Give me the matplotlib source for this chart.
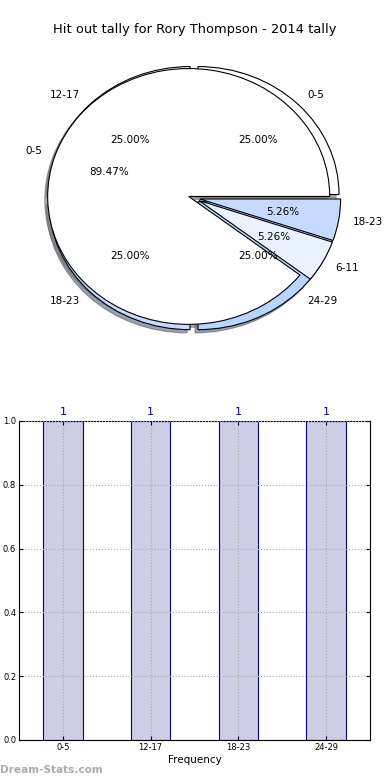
import matplotlib
matplotlib.use("Agg")
import matplotlib.pyplot as plt
import numpy as np

# pie 1 (season split)
pie1_labels = ["0-5", "6-11", "18-23"]
pie1_values = [17, 1, 1]
pie1_colors = ["#ffffff", "#eaf1ff", "#c6d9ff"]

# pie 2 (frequency split)
pie2_labels = ["0-5", "12-17", "18-23", "24-29"]
pie2_values = [1, 1, 1, 1]
pie2_colors = ["#ffffff", "#ffffff", "#c6d9ff", "#b9d5ff"]

# bar chart
bar_labels = ["0-5", "12-17", "18-23", "24-29"]
bar_values = [1, 1, 1, 1]

titulo = "Hit out tally for Rory Thompson - 2014 tally"

fig = plt.figure(figsize=(3.9, 7.8), dpi=100)

# --- pies ---
ax1 = fig.add_axes([0.0455, 0.541, 0.904, 0.410])
props = dict(linewidth=0.8, edgecolor="black")
sombra = dict(ox=-0.015, oy=-0.018, shade=0.55, alpha=0.6)

ax1.pie(pie2_values, labels=pie2_labels, colors=pie2_colors,
        explode=[0.04] * len(pie2_values), autopct="%.2f%%", shadow=sombra,
        wedgeprops=props, textprops=dict(fontsize=7.5))
ax1.pie(pie1_values, labels=pie1_labels, colors=pie1_colors,
        explode=[0.04] * len(pie1_values), autopct="%.2f%%", shadow=sombra,
        wedgeprops=props, textprops=dict(fontsize=7.5))

ax1.set_aspect("auto")
ax1.set_xlim(-1.25, 1.25)
ax1.set_ylim(-1.25, 1.25)
ax1.axis("off")

fig.text(0.5, 1 - 30 / 780, titulo, ha="center", va="center", fontsize=9.4)

# --- bars ---
ax2 = fig.add_axes([0.0487, 0.0513, 0.9, 0.409])
x = np.arange(len(bar_labels))
ax2.bar(x, bar_values, width=0.45, color="#cdcde5", edgecolor="navy", linewidth=0.8)
for xi, v in zip(x, bar_values):
    ax2.text(xi, v + 0.012, str(v), ha="center", va="bottom", color="navy", fontsize=8)

ax2.set_xlim(-0.5, 3.5)
ax2.set_ylim(0, 1.0)
ax2.set_xticks(x)
ax2.set_xticklabels(bar_labels, fontsize=6)
ax2.set_yticks(np.arange(0, 1.01, 0.2))
ax2.set_yticklabels([f"{t:.1f}" for t in np.arange(0, 1.01, 0.2)], fontsize=6)
ax2.tick_params(direction="in", top=True, right=True, length=3, pad=2)
ax2.set_axisbelow(False)
ax2.grid(True, linestyle=":", color="#aaaaaa", linewidth=0.8)
ax2.set_xlabel("Frequency", fontsize=7.5, labelpad=2)

fig.text(0.0, 1 - 770 / 780, "Dream-Stats.com", ha="left", va="center",
         fontsize=7.6, color="#aaaaaa", fontweight="bold")

fig.savefig("out.png", dpi=100)
